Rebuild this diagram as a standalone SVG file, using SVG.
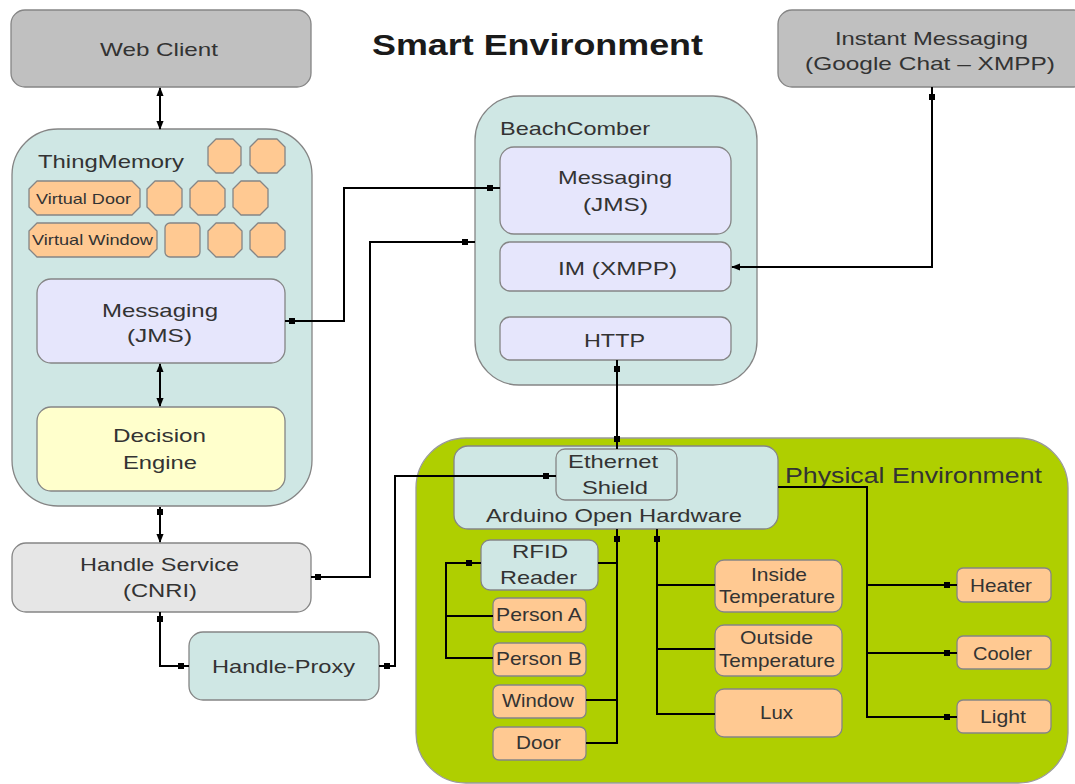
<svg xmlns="http://www.w3.org/2000/svg" width="1075" height="784" viewBox="0 0 1075 784">
<defs>
<style>
text{font-family:"Liberation Sans",Arial,sans-serif;font-size:19px;fill:#333;}
.t{font-size:30px;font-weight:bold;fill:#1a1a1a;}
.s{font-size:15px;}
.m{font-size:18.5px;}
.pe{font-size:21.5px;}
.box{stroke:#858585;stroke-width:1.3;}
.gray{fill:#c0c0c0;}
.lgray{fill:#e6e6e6;}
.teal{fill:#cfe7e4;}
.lav{fill:#e6e6fc;}
.yel{fill:#ffffcc;}
.org{fill:#ffc992;}
.green{fill:#afcf00;stroke:#9a9a9a;stroke-width:1.3;}
.c{fill:none;stroke:#000;stroke-width:2;}
.ar{marker-end:url(#arr);}
.ar2{marker-start:url(#arr);marker-end:url(#arr);}
</style>
<marker id="arr" viewBox="0 0 10 10" refX="9" refY="5" markerWidth="9" markerHeight="9" markerUnits="userSpaceOnUse" orient="auto-start-reverse">
<path d="M0,1 L10,5 L0,9 z" fill="#000"/>
</marker>
<rect id="dot" x="-3" y="-3" width="6" height="6" fill="#000"/>
</defs>

<text class="t" x="372" y="55" textLength="331" lengthAdjust="spacingAndGlyphs">Smart Environment</text>

<g id="web-client">
<rect class="box gray" x="11" y="10" width="300" height="77" rx="14"/>
<text x="100" y="56" textLength="118" lengthAdjust="spacingAndGlyphs">Web Client</text>
</g>

<g id="instant-messaging">
<rect class="box gray" x="778" y="10" width="310" height="77" rx="14"/>
<text x="835" y="45" textLength="193" lengthAdjust="spacingAndGlyphs">Instant Messaging</text>
<text x="805" y="70" textLength="250" lengthAdjust="spacingAndGlyphs">(Google Chat – XMPP)</text>
</g>

<g id="thingmemory">
<rect class="box teal" x="12" y="129" width="300" height="377" rx="46"/>
<text x="38" y="168" textLength="146" lengthAdjust="spacingAndGlyphs">ThingMemory</text>
<polygon class="box org" points="216,139 233,139 241,147 241,165 233,173 216,173 208,165 208,147" stroke-linejoin="round"/>
<polygon class="box org" points="258,139 277,139 285,147 285,165 277,173 258,173 250,165 250,147" stroke-linejoin="round"/>
<polygon class="box org" points="37,181 132,181 140,189 140,207 132,215 37,215 29,207 29,189" stroke-linejoin="round"/>
<text class="s" x="36" y="204" textLength="95" lengthAdjust="spacingAndGlyphs">Virtual Door</text>
<polygon class="box org" points="155,181 174,181 182,189 182,207 174,215 155,215 147,207 147,189" stroke-linejoin="round"/>
<polygon class="box org" points="198,181 217,181 225,189 225,207 217,215 198,215 190,207 190,189" stroke-linejoin="round"/>
<polygon class="box org" points="241,181 260,181 268,189 268,207 260,215 241,215 233,207 233,189" stroke-linejoin="round"/>
<polygon class="box org" points="37,223 149,223 157,231 157,249 149,257 37,257 29,249 29,231" stroke-linejoin="round"/>
<text class="s" x="32" y="245" textLength="121" lengthAdjust="spacingAndGlyphs">Virtual Window</text>
<rect class="box org" x="165" y="223" width="35" height="34" rx="5"/>
<polygon class="box org" points="216,223 234,223 242,231 242,249 234,257 216,257 208,249 208,231" stroke-linejoin="round"/>
<polygon class="box org" points="258,223 277,223 285,231 285,249 277,257 258,257 250,249 250,231" stroke-linejoin="round"/>
<g id="tm-messaging">
<rect class="box lav" x="37" y="279" width="248" height="84" rx="14"/>
<text x="102" y="317" textLength="116" lengthAdjust="spacingAndGlyphs">Messaging</text>
<text x="127" y="342" textLength="65" lengthAdjust="spacingAndGlyphs">(JMS)</text>
</g>
<g id="decision-engine">
<rect class="box yel" x="37" y="407" width="248" height="84" rx="14"/>
<text x="113" y="442" textLength="93" lengthAdjust="spacingAndGlyphs">Decision</text>
<text x="123" y="469" textLength="74" lengthAdjust="spacingAndGlyphs">Engine</text>
</g>
</g>

<g id="handle-service">
<rect class="box lgray" x="12" y="543" width="299" height="69" rx="14"/>
<text x="80" y="571" textLength="159" lengthAdjust="spacingAndGlyphs">Handle Service</text>
<text x="123" y="597" textLength="74" lengthAdjust="spacingAndGlyphs">(CNRI)</text>
</g>

<g id="handle-proxy">
<rect class="box teal" x="189" y="632" width="190" height="68" rx="14"/>
<text x="212" y="673" textLength="143" lengthAdjust="spacingAndGlyphs">Handle-Proxy</text>
</g>

<g id="beachcomber">
<rect class="box teal" x="475" y="96" width="282" height="289" rx="44"/>
<text x="500" y="135" textLength="150" lengthAdjust="spacingAndGlyphs">BeachComber</text>
<g id="bc-messaging">
<rect class="box lav" x="500" y="147" width="231" height="87" rx="14"/>
<text x="558" y="184" textLength="114" lengthAdjust="spacingAndGlyphs">Messaging</text>
<text x="583" y="211" textLength="65" lengthAdjust="spacingAndGlyphs">(JMS)</text>
</g>
<g id="bc-im">
<rect class="box lav" x="500" y="242" width="231" height="49" rx="10"/>
<text x="558" y="275" textLength="119" lengthAdjust="spacingAndGlyphs">IM (XMPP)</text>
</g>
<g id="bc-http">
<rect class="box lav" x="500" y="317" width="231" height="43" rx="10"/>
<text x="584" y="347" textLength="61" lengthAdjust="spacingAndGlyphs">HTTP</text>
</g>
</g>

<g id="physical-environment">
<rect class="green" x="416" y="438" width="652" height="345" rx="50"/>
<text class="pe" x="785" y="483" textLength="257" lengthAdjust="spacingAndGlyphs">Physical Environment</text>
</g>

<g id="arduino">
<rect class="box teal" x="454" y="446" width="324" height="83" rx="14"/>
<text x="486" y="522" textLength="256" lengthAdjust="spacingAndGlyphs">Arduino Open Hardware</text>
<g id="ethernet-shield">
<rect class="box teal" x="556" y="449" width="121" height="51" rx="9"/>
<text x="568" y="468" textLength="90" lengthAdjust="spacingAndGlyphs">Ethernet</text>
<text x="582" y="494" textLength="66" lengthAdjust="spacingAndGlyphs">Shield</text>
</g>
</g>

<g id="rfid-reader">
<rect class="box teal" x="481" y="540" width="117" height="50" rx="9"/>
<text x="512" y="558" textLength="56" lengthAdjust="spacingAndGlyphs">RFID</text>
<text x="500" y="584" textLength="77" lengthAdjust="spacingAndGlyphs">Reader</text>
</g>
<g id="person-a">
<rect class="box org" x="493" y="598" width="93" height="34" rx="6"/>
<text class="m" x="496" y="621" textLength="86" lengthAdjust="spacingAndGlyphs">Person A</text>
</g>
<g id="person-b">
<rect class="box org" x="493" y="643" width="93" height="33" rx="6"/>
<text class="m" x="496" y="665" textLength="86" lengthAdjust="spacingAndGlyphs">Person B</text>
</g>
<g id="window">
<rect class="box org" x="493" y="685" width="93" height="33" rx="6"/>
<text class="m" x="502" y="707" textLength="72" lengthAdjust="spacingAndGlyphs">Window</text>
</g>
<g id="door">
<rect class="box org" x="493" y="727" width="93" height="33" rx="6"/>
<text class="m" x="516" y="749" textLength="45" lengthAdjust="spacingAndGlyphs">Door</text>
</g>
<g id="inside-temperature">
<rect class="box org" x="715" y="560" width="127" height="52" rx="9"/>
<text class="m" x="751" y="581" textLength="56" lengthAdjust="spacingAndGlyphs">Inside</text>
<text class="m" x="719" y="603" textLength="116" lengthAdjust="spacingAndGlyphs">Temperature</text>
</g>
<g id="outside-temperature">
<rect class="box org" x="715" y="625" width="127" height="51" rx="9"/>
<text class="m" x="740" y="644" textLength="73" lengthAdjust="spacingAndGlyphs">Outside</text>
<text class="m" x="719" y="667" textLength="116" lengthAdjust="spacingAndGlyphs">Temperature</text>
</g>
<g id="lux">
<rect class="box org" x="715" y="689" width="127" height="48" rx="9"/>
<text class="m" x="760" y="719" textLength="33" lengthAdjust="spacingAndGlyphs">Lux</text>
</g>
<g id="heater">
<rect class="box org" x="957" y="568" width="94" height="34" rx="6"/>
<text class="m" x="970" y="592" textLength="62" lengthAdjust="spacingAndGlyphs">Heater</text>
</g>
<g id="cooler">
<rect class="box org" x="957" y="636" width="94" height="33" rx="6"/>
<text class="m" x="973" y="660" textLength="59" lengthAdjust="spacingAndGlyphs">Cooler</text>
</g>
<g id="light">
<rect class="box org" x="957" y="700" width="94" height="33" rx="6"/>
<text class="m" x="980" y="723" textLength="46" lengthAdjust="spacingAndGlyphs">Light</text>
</g>

<g id="connectors">
<path class="c ar2" d="M160,88 V129"/>
<path class="c ar2" d="M160,364 V406"/>
<path class="c ar" d="M160,507 V542"/>
<use href="#dot" x="160" y="512"/>
<path class="c" d="M160,612 V666 H189"/>
<use href="#dot" x="160" y="619"/>
<use href="#dot" x="181" y="666"/>
<path class="c" d="M379,666 H395 V476 H556"/>
<use href="#dot" x="387" y="666"/>
<use href="#dot" x="546" y="476"/>
<path class="c" d="M311,577 H370 V242 H475"/>
<use href="#dot" x="318" y="577"/>
<use href="#dot" x="465" y="242"/>
<path class="c" d="M285,321 H344 V188 H500"/>
<use href="#dot" x="292" y="321"/>
<use href="#dot" x="490" y="188"/>
<path class="c ar" d="M932,87 V267 H732"/>
<use href="#dot" x="932" y="97"/>
<path class="c" d="M617,360 V449"/>
<use href="#dot" x="617" y="369"/>
<use href="#dot" x="617" y="439"/>
<path class="c" d="M617,529 V743 H586 M598,563 H617 M586,700 H617"/>
<use href="#dot" x="617" y="539"/>
<path class="c" d="M481,563 H446 V658 H493 M446,616 H493"/>
<use href="#dot" x="469" y="563"/>
<path class="c" d="M657,529 V714 H715 M657,585 H715 M657,649 H715"/>
<use href="#dot" x="657" y="539"/>
<path class="c" d="M778,487 H867 V717 H957 M867,585 H957 M867,653 H957"/>
<use href="#dot" x="947" y="585"/>
<use href="#dot" x="947" y="653"/>
<use href="#dot" x="947" y="717"/>
</g>
</svg>
